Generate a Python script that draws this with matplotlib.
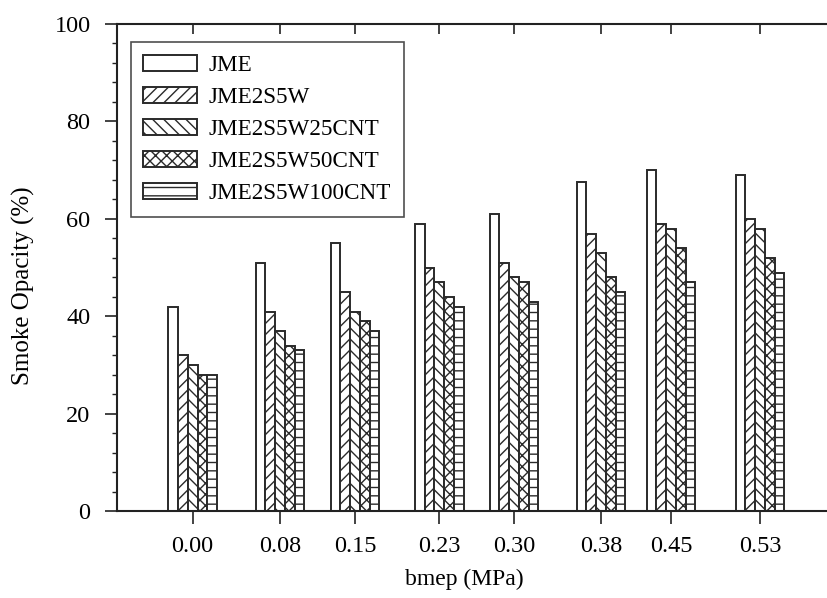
import matplotlib
matplotlib.use("Agg")
import matplotlib.pyplot as plt
from matplotlib.ticker import MultipleLocator
import numpy as np

# ---- data ----
bmep = [0.0, 0.0816, 0.1516, 0.2304, 0.3002, 0.3815, 0.4468, 0.53]
series_names = ["JME", "JME2S5W", "JME2S5W25CNT", "JME2S5W50CNT", "JME2S5W100CNT"]
jme = [42, 51, 55, 59, 61, 67.5, 70, 69]
jme2s5w = [32, 41, 45, 50, 51, 57, 59, 60]
jme2s5w25cnt = [30, 37, 41, 47, 48, 53, 58, 58]
jme2s5w50cnt = [28, 34, 39, 44, 47, 48, 54, 52]
jme2s5w100cnt = [28, 33, 37, 42, 43, 45, 47, 49]
tick_labels = [f"{v:.2f}" for v in bmep]

series = [jme, jme2s5w, jme2s5w25cnt, jme2s5w50cnt, jme2s5w100cnt]
hatches = ["", "///", "\\\\\\", "xxx", "--"]

plt.rcParams['font.family'] = ['Liberation Serif', 'DejaVu Serif']
plt.rcParams['hatch.linewidth'] = 1.0
plt.rcParams['hatch.color'] = '#2a2a2a'

edge = '#2a2a2a'
fig = plt.figure(figsize=(8.28, 5.98), dpi=100)
ax = fig.add_axes([117/828, 1-511.3/598, 710/828, 487.3/598])

width = 0.0091
x = np.array(bmep)
for i, (name, vals, h) in enumerate(zip(series_names, series, hatches)):
    ax.bar(x + (i-2)*width, vals, width, color='white', edgecolor=edge,
           linewidth=1.4, hatch=h, label=name)

ax.set_xlim(-0.0707, 0.5926)
ax.set_ylim(0, 100)
ax.set_xticks(bmep)
ax.set_xticklabels(tick_labels)
ax.yaxis.set_major_locator(MultipleLocator(20))
ax.yaxis.set_minor_locator(MultipleLocator(4))

ax.tick_params(axis='both', which='major', labelsize=17.5, length=9, width=1.2,
               color='#222222', direction='out')
ax.tick_params(axis='x', pad=9)
ax.tick_params(axis='y', pad=10)
ax.tick_params(axis='y', which='minor', length=3.5, width=1.0, direction='out', color='#222222')

sec = ax.secondary_xaxis('top')
sec.set_xticks(bmep)
sec.tick_params(axis='x', direction='in', length=7, width=1.2, color='#222222', labeltop=False)
sec.spines['top'].set_visible(False)

for s in ['left', 'bottom', 'top']:
    ax.spines[s].set_linewidth(1.5)
    ax.spines[s].set_color('#222222')
ax.spines['right'].set_visible(False)

ax.set_xlabel("bmep (MPa)", fontsize=17)
ax.set_ylabel("Smoke Opacity (%)", fontsize=18)
ax.xaxis.set_label_coords(0.489, -0.118)
ax.yaxis.set_label_coords(-0.1155, 0.462)

leg = ax.legend(loc='upper left', bbox_to_anchor=(0.0193, 0.963), borderaxespad=0,
                fontsize=16.7, frameon=True, fancybox=False, edgecolor='#222222',
                handlelength=2.3, handleheight=0.68, handletextpad=0.5,
                labelspacing=0.47, borderpad=0.55)
leg.get_frame().set_linewidth(1.2)

fig.savefig("out.png", dpi=100)
